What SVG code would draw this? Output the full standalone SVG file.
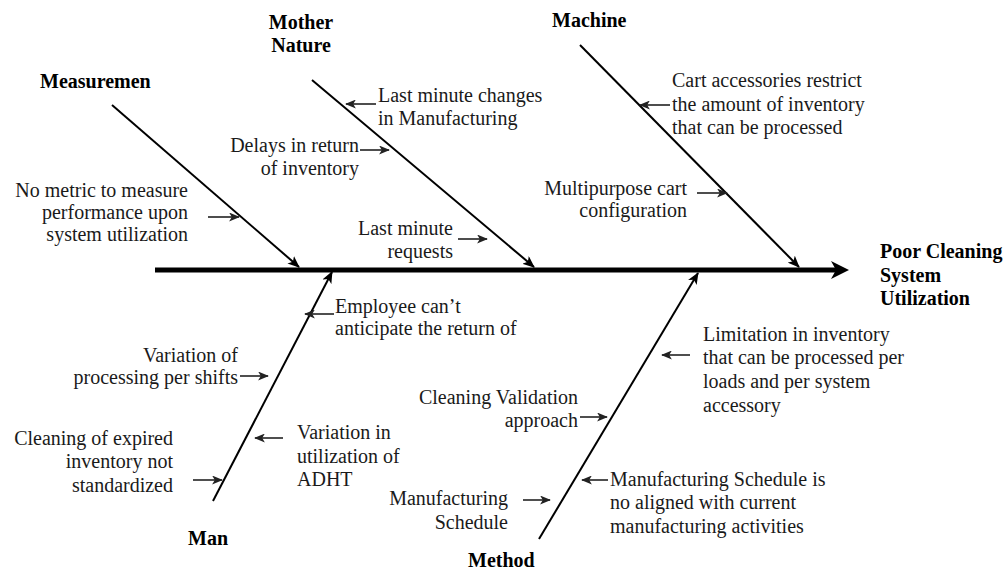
<svg xmlns="http://www.w3.org/2000/svg" width="1008" height="570" viewBox="0 0 1008 570">
<defs>
<style>
text{font-family:"Liberation Serif","Times New Roman",serif;font-size:20px;fill:#1a1a1a}
.b{font-weight:bold;fill:#000}
.e{text-anchor:end}
.m{text-anchor:middle}
.bone{stroke:#000;stroke-width:2;fill:none}
.sub{stroke:#222;stroke-width:1.6;fill:none}
.spine{stroke:#000;stroke-width:5;fill:none}
</style>
<marker id="ah" viewBox="0 0 12 10" refX="11" refY="5" markerWidth="12" markerHeight="10" markerUnits="userSpaceOnUse" orient="auto"><path d="M0,0 L12,5 L0,10 L3,5 z" fill="#000"/></marker>
<marker id="as" viewBox="0 0 12 10" refX="11" refY="5" markerWidth="11" markerHeight="9" markerUnits="userSpaceOnUse" orient="auto"><path d="M0,0 L12,5 L0,10 L3,5 z" fill="#222"/></marker>
</defs>
<rect width="1008" height="570" fill="#fff"/>
<g id="connectors">
<line class="spine" x1="155" y1="270" x2="838" y2="270"/>
<path d="M849,270 L831,261 L836,270 L831,279 Z" fill="#000"/>
<line class="bone" x1="112" y1="105" x2="299" y2="267" marker-end="url(#ah)"/>
<line class="bone" x1="312" y1="80" x2="534" y2="267" marker-end="url(#ah)"/>
<line class="bone" x1="580" y1="45" x2="799" y2="267" marker-end="url(#ah)"/>
<line class="bone" x1="213" y1="501" x2="332" y2="272" marker-end="url(#ah)"/>
<line class="bone" x1="539" y1="539" x2="698" y2="273" marker-end="url(#ah)"/>
<line class="sub" x1="208" y1="217" x2="239" y2="217" marker-end="url(#as)"/>
<line class="sub" x1="376" y1="104" x2="346" y2="104" marker-end="url(#as)"/>
<line class="sub" x1="360" y1="150" x2="389" y2="150" marker-end="url(#as)"/>
<line class="sub" x1="458" y1="239" x2="487" y2="239" marker-end="url(#as)"/>
<line class="sub" x1="670" y1="105" x2="640" y2="105" marker-end="url(#as)"/>
<line class="sub" x1="697" y1="193" x2="727" y2="193" marker-end="url(#as)"/>
<line class="sub" x1="334" y1="314" x2="305" y2="314" marker-end="url(#as)"/>
<line class="sub" x1="240" y1="376" x2="268" y2="376" marker-end="url(#as)"/>
<line class="sub" x1="193" y1="480" x2="222" y2="480" marker-end="url(#as)"/>
<line class="sub" x1="283" y1="438" x2="255" y2="438" marker-end="url(#as)"/>
<line class="sub" x1="580" y1="417" x2="607" y2="417" marker-end="url(#as)"/>
<line class="sub" x1="690" y1="355" x2="662" y2="355" marker-end="url(#as)"/>
<line class="sub" x1="523" y1="500" x2="550" y2="500" marker-end="url(#as)"/>
<line class="sub" x1="608" y1="480" x2="582" y2="480" marker-end="url(#as)"/>
</g>
<g id="effect"><text class="b" x="880" y="258">Poor Cleaning</text><text class="b" x="880" y="282">System</text><text class="b" x="880" y="305">Utilization</text></g>
<g id="cat-measurement"><text class="b" x="40" y="88">Measuremen</text></g>
<g id="cat-mother-nature"><text class="b m" x="301" y="29">Mother</text><text class="b m" x="301" y="52">Nature</text></g>
<g id="cat-machine"><text class="b" x="552" y="27">Machine</text></g>
<g id="cat-man"><text class="b" x="188" y="545">Man</text></g>
<g id="cat-method"><text class="b" x="468" y="567">Method</text></g>
<g id="cause-no-metric"><text class="e" x="188" y="197">No metric to measure</text><text class="e" x="188" y="219">performance upon</text><text class="e" x="188" y="241">system utilization</text></g>
<g id="cause-last-minute-changes"><text x="378" y="102">Last minute changes</text><text x="378" y="125">in Manufacturing</text></g>
<g id="cause-delays"><text class="e" x="359" y="152">Delays in return</text><text class="e" x="359" y="175">of inventory</text></g>
<g id="cause-last-minute-requests"><text class="e" x="453" y="235">Last minute</text><text class="e" x="453" y="258">requests</text></g>
<g id="cause-cart-accessories"><text x="672" y="87">Cart accessories restrict</text><text x="672" y="111">the amount of inventory</text><text x="672" y="134">that can be processed</text></g>
<g id="cause-multipurpose"><text class="e" x="687" y="195">Multipurpose cart</text><text class="e" x="687" y="217">configuration</text></g>
<g id="cause-employee"><text x="335" y="313">Employee can’t</text><text x="335" y="335">anticipate the return of</text></g>
<g id="cause-variation-shifts"><text class="e" x="238" y="362">Variation of</text><text class="e" x="238" y="384">processing per shifts</text></g>
<g id="cause-expired"><text class="e" x="173" y="445">Cleaning of expired</text><text class="e" x="173" y="468">inventory not</text><text class="e" x="173" y="492">standardized</text></g>
<g id="cause-adht"><text x="297" y="439">Variation in</text><text x="297" y="463">utilization of</text><text x="297" y="486">ADHT</text></g>
<g id="cause-validation"><text class="e" x="578" y="404">Cleaning Validation</text><text class="e" x="578" y="427">approach</text></g>
<g id="cause-limitation"><text x="703" y="341">Limitation in inventory</text><text x="703" y="364">that can be processed per</text><text x="703" y="388">loads and per system</text><text x="703" y="412">accessory</text></g>
<g id="cause-schedule"><text class="e" x="508" y="505">Manufacturing</text><text class="e" x="508" y="529">Schedule</text></g>
<g id="cause-schedule-aligned"><text x="610" y="486">Manufacturing Schedule is</text><text x="610" y="509">no aligned with current</text><text x="610" y="533">manufacturing activities</text></g>
</svg>
